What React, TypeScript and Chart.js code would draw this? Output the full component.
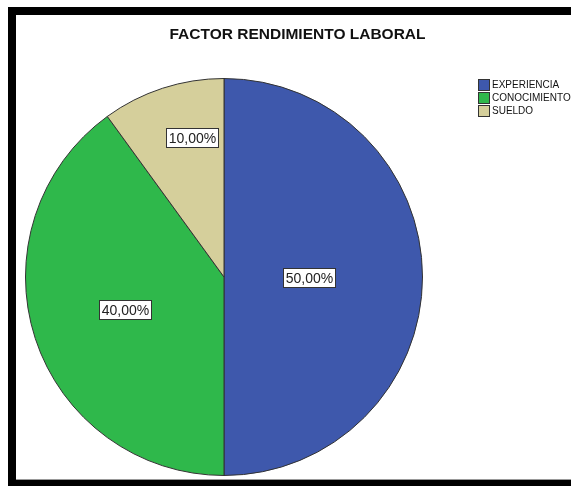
import React, { useEffect, useRef } from "react";
import { Chart, registerables } from "chart.js";

Chart.register(...registerables);

const TITLE = "FACTOR RENDIMIENTO LABORAL";
const categories = ["EXPERIENCIA", "CONOCIMIENTO", "SUELDO"];
const percentages = [50, 40, 10];
const sliceColors = ["#3e58ac", "#2fb84b", "#d5cf9b"];
const labelRadiusFactors = [0.43, 0.525, 0.72];
const labelAngleOffsetsDeg = [0, 0, 5];

const fmt = (v: number) => v.toFixed(2).replace(".", ",") + "%";

const titlePlugin = {
  id: "customTitle",
  afterDraw(chart: any) {
    const ctx = chart.ctx;
    ctx.save();
    ctx.font = 'bold 15.5px "Liberation Sans", Arial, sans-serif';
    ctx.fillStyle = "#111111";
    ctx.textAlign = "center";
    ctx.textBaseline = "middle";
    ctx.fillText(TITLE, 281.5, 20);
    ctx.restore();
  },
};

const valueLabelsPlugin = {
  id: "valueLabels",
  afterDatasetsDraw(chart: any) {
    const ctx = chart.ctx;
    const meta = chart.getDatasetMeta(0);
    ctx.save();
    ctx.font = '14px "Liberation Sans", Arial, sans-serif';
    ctx.textAlign = "center";
    ctx.textBaseline = "middle";
    meta.data.forEach((arc: any, i: number) => {
      const { x, y, startAngle, endAngle, outerRadius } = arc.getProps(
        ["x", "y", "startAngle", "endAngle", "outerRadius"],
        true
      );
      const mid = (startAngle + endAngle) / 2 + (labelAngleOffsetsDeg[i] * Math.PI) / 180;
      const r = outerRadius * labelRadiusFactors[i];
      const cx = x + Math.cos(mid) * r;
      const cy = y + Math.sin(mid) * r;
      const text = fmt(percentages[i]);
      const w = Math.round(ctx.measureText(text).width + 5);
      const h = 19;
      const bx = Math.round(cx - w / 2) + 0.5;
      const by = Math.round(cy - h / 2) + 0.5;
      ctx.fillStyle = "#ffffff";
      ctx.fillRect(bx, by, w, h);
      ctx.strokeStyle = "#333333";
      ctx.lineWidth = 1;
      ctx.strokeRect(bx, by, w, h);
      ctx.fillStyle = "#222222";
      ctx.fillText(text, bx + w / 2, by + h / 2 + 1);
    });
    ctx.restore();
  },
};

const legendPlugin = {
  id: "customLegend",
  afterDraw(chart: any) {
    const ctx = chart.ctx;
    const x0 = 462;
    const y0 = 64;
    const size = 11;
    const step = 13;
    ctx.save();
    ctx.font = '10px "Liberation Sans", Arial, sans-serif';
    ctx.textBaseline = "middle";
    ctx.textAlign = "left";
    categories.forEach((c, i) => {
      const y = y0 + i * step;
      ctx.fillStyle = sliceColors[i];
      ctx.fillRect(x0 + 0.5, y + 0.5, size, size);
      ctx.strokeStyle = "#333333";
      ctx.lineWidth = 1;
      ctx.strokeRect(x0 + 0.5, y + 0.5, size, size);
      ctx.fillStyle = "#111111";
      ctx.fillText(c, x0 + size + 3, y + size / 2 + 1);
    });
    ctx.restore();
  },
};

export default function App() {
  const canvasRef = useRef<HTMLCanvasElement | null>(null);

  useEffect(() => {
    if (!canvasRef.current) return;
    const chart = new Chart(canvasRef.current, {
      type: "pie",
      data: {
        labels: categories,
        datasets: [
          {
            data: percentages,
            backgroundColor: sliceColors,
            borderColor: "#333333",
            borderWidth: 1,
            hoverOffset: 0,
          },
        ],
      },
      options: {
        responsive: false,
        animation: false,
        events: [],
        layout: { padding: { left: 9, right: 148, top: 63, bottom: 3 } },
        plugins: {
          legend: { display: false },
          tooltip: { enabled: false },
          title: { display: false },
        },
      },
      plugins: [valueLabelsPlugin, legendPlugin, titlePlugin],
    });
    return () => chart.destroy();
  }, []);

  return (
    <div
      style={{
        position: "fixed",
        left: 8,
        top: 7,
        width: 563,
        height: 479,
        boxSizing: "border-box",
        borderTop: "8px solid #000",
        borderLeft: "8px solid #000",
        borderBottom: "6px solid #000",
        background: "#fff",
        overflow: "hidden",
      }}
    >
      <div style={{ width: 555, height: 465, boxSizing: "border-box", borderBottom: "1px solid #999" }}>
        <canvas ref={canvasRef} width={555} height={464} style={{ display: "block" }} />
      </div>
    </div>
  );
}
